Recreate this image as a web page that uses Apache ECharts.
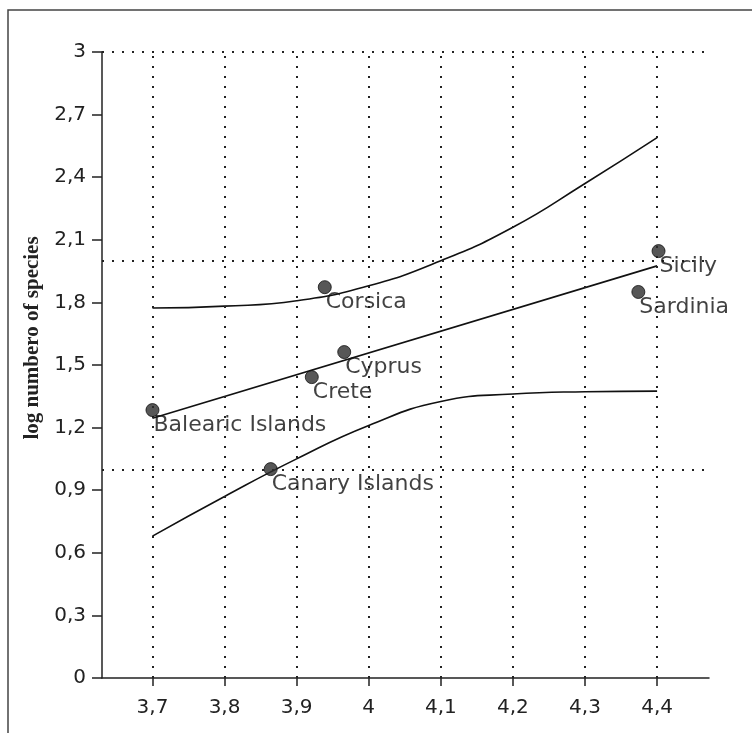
<!DOCTYPE html>
<html>
<head>
<meta charset="utf-8">
<script src="https://cdn.jsdelivr.net/npm/echarts@6/dist/echarts.min.js"></script>
<style>
  html, body { margin: 0; padding: 0; background: #fff; }
  #chart { width: 752px; height: 733px; }
</style>
</head>
<body>
<div id="chart"></div>
<script>
// islands (x = log area, y = log number of species)
var islands = ['Balearic Islands', 'Canary Islands', 'Crete', 'Cyprus', 'Corsica', 'Sicily', 'Sardinia'];
var islandX = [3.70, 3.864, 3.921, 3.966, 3.939, 4.402, 4.374];
var islandY = [1.284, 1.001, 1.442, 1.562, 1.873, 2.046, 1.85];

// regression line
var fitX = [3.7, 4.4];
var fitY = [1.245, 1.975];

// confidence band
var bandX = [3.7, 3.8, 3.9, 4.0, 4.1, 4.2, 4.3, 4.4];
var upperY = [1.773, 1.782, 1.808, 1.88, 2.0, 2.16, 2.37, 2.59];
var lowerY = [0.68, 0.87, 1.05, 1.21, 1.325, 1.361, 1.372, 1.375];

var xTicks = [3.7, 3.8, 3.9, 4.0, 4.1, 4.2, 4.3, 4.4];
var yGridLines = [1, 2, 3];

function comma(v) {
    if (Math.abs(v - Math.round(v)) < 1e-9) return String(Math.round(v));
    return (Math.round(v * 10) / 10).toFixed(1).replace('.', ',');
}
function zip(xs, ys) {
    return xs.map(function (x, i) { return [x, ys[i]]; });
}

var dotted = { color: '#222', width: 2, type: [2, 8] };
var myChart = echarts.init(document.getElementById('chart'));
var option = {
    backgroundColor: '#fff',
    animation: false,
    grid: { left: 102, top: 52, right: 43, bottom: 55 },
    graphic: [
        {
            type: 'rect',
            shape: { x: 8, y: 10, width: 800, height: 800 },
            style: { fill: 'none', stroke: '#444', lineWidth: 1.5 },
            silent: true
        },
        {
            type: 'text',
            x: 33, y: 338,
            rotation: Math.PI / 2,
            style: {
                text: 'log numbero of species',
                font: 'bold 21px "Liberation Serif", serif',
                fill: '#222',
                align: 'center',
                verticalAlign: 'middle'
            }
        }
    ],
    xAxis: {
        type: 'value',
        min: 3.63,
        max: 4.472,
        axisLine: { lineStyle: { color: '#222', width: 1.5 } },
        axisTick: { show: true, length: 8, customValues: xTicks, lineStyle: { color: '#222', width: 1.5 } },
        axisLabel: {
            customValues: xTicks,
            formatter: comma,
            margin: 20,
            color: '#222',
            fontSize: 20,
            fontFamily: 'DejaVu Sans'
        },
        splitLine: { show: false }
    },
    yAxis: {
        type: 'value',
        min: 0,
        max: 3,
        interval: 0.3,
        axisLine: { show: true, lineStyle: { color: '#222', width: 1.5 } },
        axisTick: { show: true, length: 10, lineStyle: { color: '#222', width: 1.5 } },
        axisLabel: {
            formatter: comma,
            margin: 16,
            color: '#222',
            fontSize: 20,
            fontFamily: 'DejaVu Sans'
        },
        splitLine: { show: false }
    },
    series: [
        {
            name: 'grid',
            type: 'line',
            data: [],
            silent: true,
            markLine: {
                silent: true,
                symbol: ['none', 'none'],
                label: { show: false },
                lineStyle: dotted,
                data: xTicks.map(function (v) { return { xAxis: v }; })
                    .concat(yGridLines.map(function (v) { return { yAxis: v }; }))
            }
        },
        {
            name: 'upper',
            type: 'line',
            data: zip(bandX, upperY),
            smooth: 0.5,
            showSymbol: false,
            lineStyle: { color: '#111', width: 1.6 }
        },
        {
            name: 'lower',
            type: 'line',
            data: zip(bandX, lowerY),
            smooth: 0.5,
            showSymbol: false,
            lineStyle: { color: '#111', width: 1.6 }
        },
        {
            name: 'fit',
            type: 'line',
            data: zip(fitX, fitY),
            showSymbol: false,
            lineStyle: { color: '#111', width: 1.6 }
        },
        {
            name: 'islands',
            type: 'scatter',
            symbol: 'circle',
            symbolSize: 13,
            itemStyle: { color: '#2d2d2d', borderColor: '#111', borderWidth: 1 },
            data: islands.map(function (n, i) { return { name: n, value: [islandX[i], islandY[i]] }; }),
            label: {
                show: true,
                formatter: '{b}',
                position: [8, 11],
                align: 'left',
                verticalAlign: 'top',
                color: '#111',
                fontSize: 22,
                fontFamily: 'DejaVu Sans'
            },
            z: 5
        }
    ]
};

myChart.setOption(option);
</script>
</body>
</html>
